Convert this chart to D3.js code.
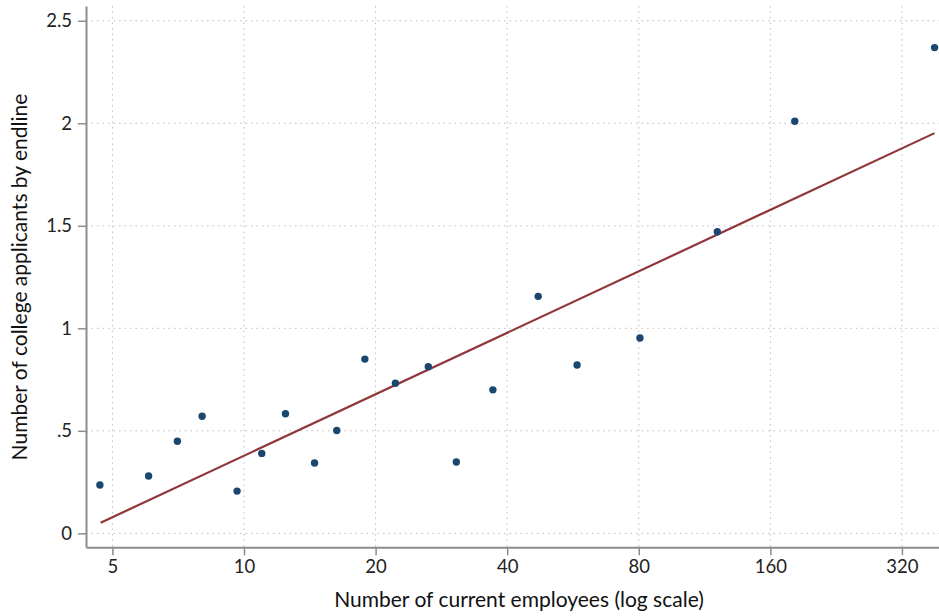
<!DOCTYPE html>
<html>
<head>
<meta charset="utf-8">
<script src="https://cdn.jsdelivr.net/npm/d3@7"></script>
<style>
  html, body { margin: 0; padding: 0; background: #fff; }
  svg { display: block; font-family: Lato, "Open Sans", sans-serif; }
</style>
</head>
<body>
<svg id="chart"></svg>
<script>
// employees (log scale) vs college applicants by endline, binned scatter
const employees = [4.68, 6.05, 7.04, 8.02, 9.64, 10.98, 12.44, 14.5, 16.3, 18.9,
  22.2, 26.4, 30.6, 37.1, 47.1, 57.8, 80.5, 121, 182, 380];
const applicants = [0.236, 0.28, 0.449, 0.571, 0.206, 0.39, 0.583, 0.343, 0.502, 0.85,
  0.732, 0.813, 0.348, 0.70, 1.156, 0.821, 0.953, 1.471, 2.01, 2.369];

// fitted line endpoints
const fitX = [4.70, 380];
const fitY = [0.052, 1.952];

const xTicks = [5, 10, 20, 40, 80, 160, 320];
const yTicks = [0, 0.5, 1, 1.5, 2, 2.5];
const yTickLabels = ["0", ".5", "1", "1.5", "2", "2.5"];

const xTitle = "Number of current employees (log scale)";
const yTitle = "Number of college applicants by endline";

const width = 939, height = 616;
const margin = {left: 86, top: 6, right: 0, bottom: 68.7};

const svg = d3.select("#chart")
  .attr("width", width)
  .attr("height", height);

const xScale = d3.scaleLog()
  .domain([4.35, 389])
  .range([margin.left, width - margin.right]);

const yScale = d3.scaleLinear()
  .domain([-0.068, 2.572])
  .range([height - margin.bottom, margin.top]);

const axisColor = "#8c8c8c";
const gridColor = "#bdbdbd";

// grid
svg.append("g")
  .selectAll("line")
  .data(yTicks)
  .join("line")
    .attr("x1", margin.left)
    .attr("x2", width - margin.right)
    .attr("y1", d => yScale(d))
    .attr("y2", d => yScale(d))
    .attr("stroke", gridColor)
    .attr("stroke-width", 1)
    .attr("stroke-dasharray", "1.5,4");

svg.append("g")
  .selectAll("line")
  .data(xTicks)
  .join("line")
    .attr("x1", d => xScale(d))
    .attr("x2", d => xScale(d))
    .attr("y1", margin.top)
    .attr("y2", height - margin.bottom)
    .attr("stroke", gridColor)
    .attr("stroke-width", 1)
    .attr("stroke-dasharray", "1.5,4");

// axes
const xAxis = d3.axisBottom(xScale)
  .tickValues(xTicks)
  .tickFormat(d3.format("d"))
  .tickSize(8)
  .tickSizeOuter(0)
  .tickPadding(5);

const yAxis = d3.axisLeft(yScale)
  .tickValues(yTicks)
  .tickFormat((d, i) => yTickLabels[i])
  .tickSize(8)
  .tickSizeOuter(0)
  .tickPadding(6);

const xAxisG = svg.append("g")
  .attr("transform", `translate(0, ${height - margin.bottom})`)
  .call(xAxis);

const yAxisG = svg.append("g")
  .attr("transform", `translate(${margin.left}, 0)`)
  .call(yAxis);

[xAxisG, yAxisG].forEach(g => {
  g.select(".domain").attr("stroke", axisColor).attr("stroke-width", 2);
  g.selectAll(".tick line").attr("stroke", axisColor).attr("stroke-width", 1.5);
  g.selectAll(".tick text")
    .attr("fill", "#222")
    .style("font-family", "Lato, 'Open Sans', sans-serif")
    .style("font-size", "18.5px");
});

// axis titles
svg.append("text")
  .attr("x", (333 + 705) / 2)
  .attr("y", 607)
  .attr("text-anchor", "middle")
  .attr("fill", "#111")
  .style("font-size", "21px")
  .text(xTitle);

svg.append("text")
  .attr("transform", `translate(27, 277) rotate(-90)`)
  .attr("text-anchor", "middle")
  .attr("fill", "#111")
  .style("font-size", "21px")
  .text(yTitle);

// fitted line
const fitData = fitX.map((x, i) => ({x: x, y: fitY[i]}));
svg.append("path")
  .datum(fitData)
  .attr("fill", "none")
  .attr("stroke", "#90353b")
  .attr("stroke-width", 2.2)
  .attr("d", d3.line().x(d => xScale(d.x)).y(d => yScale(d.y)));

// points
svg.append("g")
  .selectAll("circle")
  .data(employees.map((x, i) => ({x: x, y: applicants[i]})))
  .join("circle")
    .attr("cx", d => xScale(d.x))
    .attr("cy", d => yScale(d.y))
    .attr("r", 3.7)
    .attr("fill", "#1a476f");
</script>
</body>
</html>
